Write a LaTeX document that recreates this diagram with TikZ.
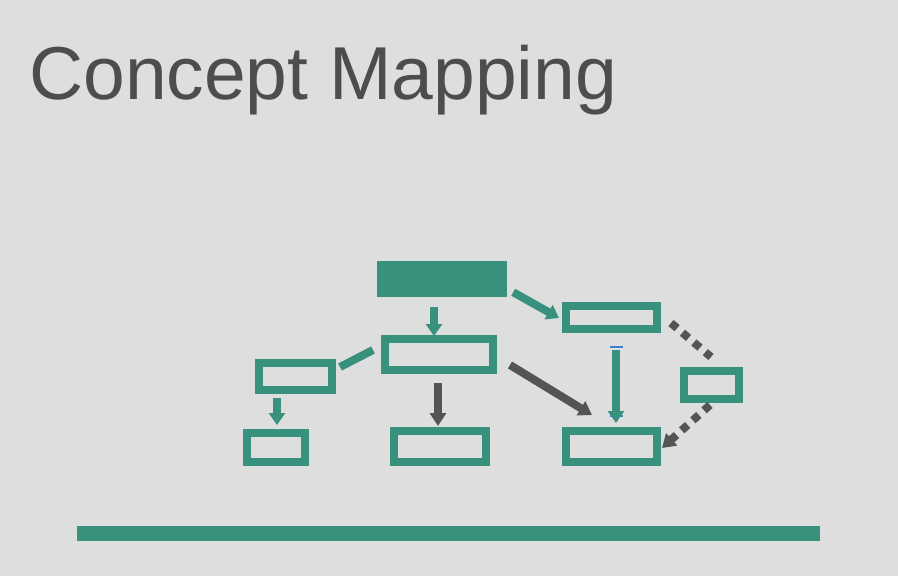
\documentclass[tikz,border=0pt]{standalone}
\usepackage{fontspec}
\setmainfont{Liberation Sans}
\usetikzlibrary{arrows.meta,calc}

\definecolor{slideteal}{HTML}{37917D}
\definecolor{slidegray}{HTML}{DEDEDE}
\definecolor{titlegray}{HTML}{4D4D4D}
\definecolor{arrowgray}{HTML}{545454}
\definecolor{handleblue}{HTML}{3E7FD6}

\begin{document}
\begin{tikzpicture}[x=1pt, y=-1pt,
  box/.style={draw=slideteal, line width=8pt, inner sep=0pt},
  tealarrow/.style={draw=slideteal, line width=8pt, -{Triangle[length=12pt,width=16pt]}},
  grayarrow/.style={draw=arrowgray, line width=8pt, -{Triangle[length=13pt,width=16pt]}},
  dotline/.style={draw=arrowgray, line width=8pt, dash pattern=on 8pt off 7pt}]
  \fill[slidegray] (0,0) rectangle (898,576);
  \node[anchor=base west, inner sep=0pt, text=titlegray,
        font=\fontsize{75}{90}\selectfont] (title) at (29,99) {Concept Mapping};
  % filled top concept, then the outlined ones (path size = outer size - stroke)
  \node[fill=slideteal, inner sep=0pt, minimum width=130pt, minimum height=36pt]
    (top) at (442,279) {};
  \foreach \n/\x/\y/\w/\h in {mid/439/354.5/108/31, left/295.5/376.5/73/27,
      botleft/276/447.5/58/29, botmid/440/446.5/92/31, rtop/611.5/317.5/91/23,
      right/711.5/385/55/28, botright/611.5/446.5/91/31}
    \node[box, minimum width=\w pt, minimum height=\h pt] (\n) at (\x,\y) {};
  % links
  \draw[tealarrow] ($(top.south)+(-8,10)$) -- ($(mid.north)+(-5,1)$);
  \draw[draw=slideteal, line width=8pt] ($(mid.west)+(-8,-4.5)$) -- ($(left.east)+(4,-9.5)$);
  \draw[tealarrow] ($(left.south)+(-18.5,4)$) -- ($(botleft.north)+(1,-4)$);
  \draw[grayarrow] ($(mid.south)+(-1,9)$) -- ($(botmid.north)+(-2,-1)$);
  \draw[tealarrow] ($(top.south east)+(6,-5)$) -- ($(rtop.west)+(-3,0.5)$);
  \draw[grayarrow] ($(mid.east)+(13,10.5)$) -- ($(botright.north west)+(30,-12)$);
  % selected connector: small handles at both ends
  \coordinate (hnd) at ($(rtop.south)+(4.5,13.5)$);
  \draw[handleblue, line width=2pt] ($(hnd)+(-6,0)$) -- ($(hnd)+(6.5,0)$);
  \draw[handleblue, line width=2pt] ($(botright.north)+(-1.5,-11)$) -- ($(botright.north)+(11,-11)$);
  \draw[tealarrow] ($(rtop.south)+(4.5,17)$) -- ($(botright.north)+(4.5,-4)$);
  \draw[dotline] ($(rtop.east)+(10,5.5)$) -- ($(right.north)+(-0.5,-10)$);
  \draw[dotline, -{Triangle[length=13pt,width=16pt]}] ($(right.south)+(-1.5,2)$)
    -- ($(botright.east)+(1,1.5)$);
  \fill[slideteal] (77,526) rectangle (820,541);
\end{tikzpicture}
\end{document}
